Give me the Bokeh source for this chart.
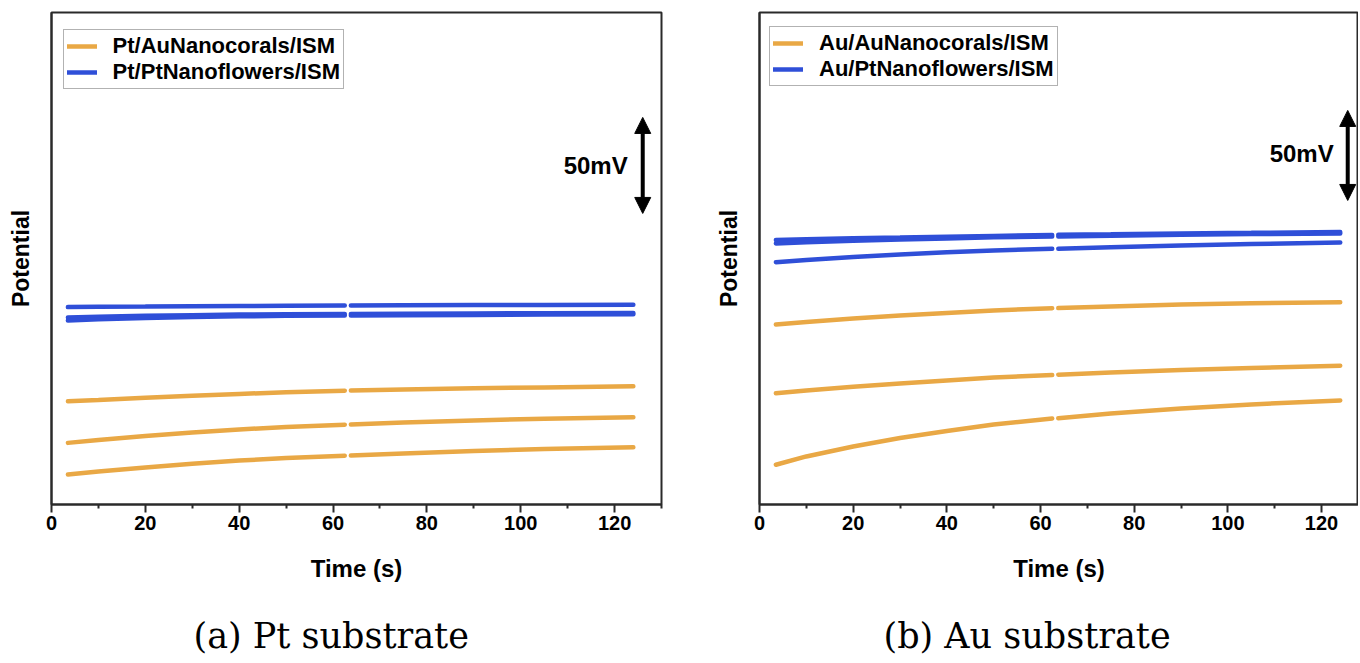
import math
from bokeh.plotting import figure
from bokeh.layouts import row
from bokeh.models import (Range1d, Legend, LegendItem, Label, Arrow, NormalHead,
                          Title, FixedTicker)
from bokeh.embed import file_html
from bokeh.resources import INLINE

# ---------------- data ----------------
TIME_S = [3.5, 10, 20, 30, 40, 50, 62.5, 63.8, 75, 90, 105, 124]
FIRST_SEGMENT = 7  # points recorded before the short break near 63 s

# (a) Pt substrate  -- potential in mV (arbitrary offset)
PT_AU_1 = [53.8, 54.4, 55.6, 56.6, 57.6, 58.4, 59.3, 59.4, 59.9, 60.5, 61.0, 61.6]
PT_AU_2 = [32.1, 33.6, 35.7, 37.5, 39.1, 40.4, 41.6, 41.7, 42.7, 43.8, 44.7, 45.5]
PT_AU_3 = [15.6, 17.2, 19.3, 21.2, 22.9, 24.2, 25.4, 25.5, 26.6, 27.9, 28.9, 29.8]
PT_PT_1 = [102.8, 103.0, 103.1, 103.3, 103.4, 103.5, 103.6, 103.6, 103.75, 103.85, 103.96, 104.0]
PT_PT_2 = [97.4, 97.8, 98.3, 98.6, 98.9, 99.1, 99.2, 99.2, 99.4, 99.5, 99.6, 99.7]
PT_PT_3 = [95.8, 96.5, 97.1, 97.7, 98.0, 98.3, 98.4, 98.4, 98.6, 98.75, 98.9, 99.1]

# (b) Au substrate
AU_AU_1 = [100.0, 101.4, 103.3, 105.0, 106.4, 107.8, 109.0, 109.1, 110.0, 111.1, 111.8, 112.4]
AU_AU_2 = [61.8, 63.3, 65.4, 67.2, 68.9, 70.6, 71.9, 72.1, 73.3, 74.7, 75.8, 77.1]
AU_AU_3 = [22.1, 26.7, 32.2, 36.9, 40.8, 44.4, 47.8, 47.9, 50.6, 53.3, 55.6, 57.8]
AU_PT_1 = [146.9, 147.3, 147.9, 148.3, 148.8, 149.2, 149.7, 149.8, 150.1, 150.6, 150.9, 151.4]
AU_PT_2 = [145.0, 145.7, 146.5, 147.2, 147.8, 148.4, 148.9, 148.9, 149.3, 149.8, 150.2, 150.6]
AU_PT_3 = [134.6, 135.8, 137.5, 138.9, 140.1, 141.1, 142.0, 142.1, 142.9, 143.9, 144.7, 145.6]

LEGEND_A = ["Pt/AuNanocorals/ISM", "Pt/PtNanoflowers/ISM"]
LEGEND_B = ["Au/AuNanocorals/ISM", "Au/PtNanoflowers/ISM"]
CAPTIONS = ["(a) Pt substrate", "(b) Au substrate"]
X_TICKS = [0, 20, 40, 60, 80, 100, 120]
X_MINOR = [10, 30, 50, 70, 90, 110, 130]
SCALE_BAR_MV = 50
SCALE_TEXT = "50mV"

ORANGE = "#E9A845"
BLUE = "#2F4FD8"
DARK = "#2a2a2a"
SANS = "Liberation Sans"


def with_gap(v):
    return list(v[:FIRST_SEGMENT]) + [math.nan] + list(v[FIRST_SEGMENT:])


def make_panel(x_end, y_end, frame_w, b_left, b_right, orange_sets, blue_sets,
               labels, legend_xy, bar_x, bar_y0, text_x, text_y, caption, cap_offset):
    p = figure(frame_width=frame_w, frame_height=492,
               x_range=Range1d(0, x_end), y_range=Range1d(0, y_end),
               output_backend="svg", toolbar_location=None,
               min_border_left=b_left, min_border_right=b_right,
               min_border_top=12, min_border_bottom=150,
               background_fill_color="white", border_fill_color="white")
    p.grid.visible = False
    p.outline_line_color = DARK
    p.outline_line_width = 2

    xs = with_gap(TIME_S)
    orange_r = [p.line(xs, with_gap(v), line_color=ORANGE, line_width=4.5,
                       line_cap="round") for v in orange_sets]
    blue_r = [p.line(xs, with_gap(v), line_color=BLUE, line_width=4.5,
                     line_cap="round") for v in blue_sets]

    xa = p.xaxis[0]
    xa.ticker = FixedTicker(ticks=X_TICKS, minor_ticks=X_MINOR)
    xa.axis_line_color = DARK
    xa.axis_line_width = 2
    xa.major_tick_in = 0
    xa.major_tick_out = 8
    xa.major_tick_line_width = 2
    xa.major_tick_line_color = DARK
    xa.minor_tick_in = 0
    xa.minor_tick_out = 4
    xa.minor_tick_line_width = 2
    xa.minor_tick_line_color = DARK
    xa.major_label_text_font = SANS
    xa.major_label_text_font_style = "bold"
    xa.major_label_text_font_size = "20px"
    xa.major_label_text_color = "black"
    xa.major_label_standoff = 3
    xa.axis_label = "Time (s)"
    xa.axis_label_text_font = SANS
    xa.axis_label_text_font_style = "bold"
    xa.axis_label_text_font_size = "24px"
    xa.axis_label_text_color = "black"
    xa.axis_label_standoff = 22

    ya = p.yaxis[0]
    ya.ticker = FixedTicker(ticks=[])
    ya.axis_line_color = DARK
    ya.axis_line_width = 2
    ya.major_tick_out = 0
    ya.major_tick_in = 0
    ya.minor_tick_out = 0
    ya.minor_tick_in = 0
    ya.axis_label = "Potential"
    ya.axis_label_text_font = SANS
    ya.axis_label_text_font_style = "bold"
    ya.axis_label_text_font_size = "23px"
    ya.axis_label_text_color = "black"
    ya.axis_label_standoff = 18

    legend = Legend(items=[LegendItem(label=labels[0], renderers=[orange_r[0]]),
                           LegendItem(label=labels[1], renderers=[blue_r[0]])],
                    location=legend_xy,
                    label_text_font=SANS, label_text_font_style="bold",
                    label_text_font_size="22px", label_text_color="black",
                    label_height=24, glyph_height=24, glyph_width=30,
                    label_standoff=16, spacing=0, padding=3, margin=0,
                    border_line_color="#666666", border_line_width=1,
                    background_fill_color="white", background_fill_alpha=1)
    p.add_layout(legend)

    head = dict(size=16, fill_color="black", line_color="black")
    p.add_layout(Arrow(start=NormalHead(**head), end=NormalHead(**head),
                       x_start=bar_x, y_start=bar_y0,
                       x_end=bar_x, y_end=bar_y0 + SCALE_BAR_MV,
                       line_color="black", line_width=4))
    p.add_layout(Label(x=text_x, y=text_y, text=SCALE_TEXT, text_align="right",
                       text_baseline="middle", text_font=SANS,
                       text_font_style="bold", text_font_size="24px",
                       text_color="black"))

    p.add_layout(Title(text=caption, align="left", offset=cap_offset,
                       text_font="DejaVu Serif", text_font_style="normal",
                       text_font_size="35px", text_color="black",
                       standoff=58), "below")
    return p


pa = make_panel(130, 256.25, 610, 51, 19,
                [PT_AU_1, PT_AU_2, PT_AU_3], [PT_PT_1, PT_PT_2, PT_PT_3],
                LEGEND_A, (11.6, 415.5), 126.0, 151.6, 122.8, 176.7,
                CAPTIONS[0], 142)
pb = make_panel(127.9, 273.3, 599, 79, 0,
                [AU_AU_1, AU_AU_2, AU_AU_3], [AU_PT_1, AU_PT_2, AU_PT_3],
                LEGEND_B, (10, 417.6), 125.6, 168.9, 122.6, 195.0,
                CAPTIONS[1], 124)

layout = row(pa, pb, spacing=0)
open("out.html", "w").write(file_html(layout, INLINE))
